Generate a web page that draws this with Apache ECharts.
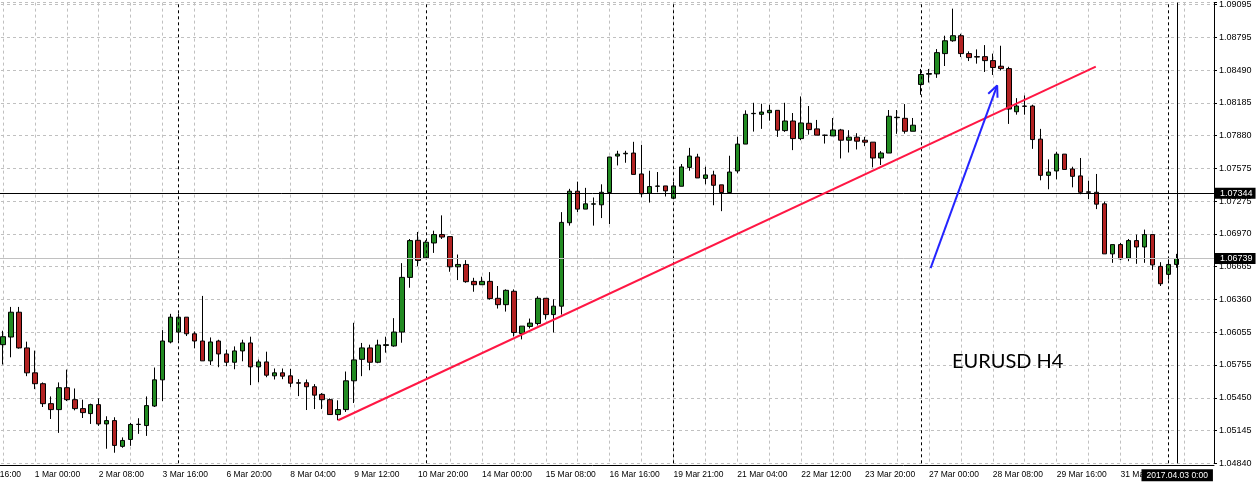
<!DOCTYPE html>
<html><head><meta charset="utf-8">
<script src="https://cdn.jsdelivr.net/npm/echarts/dist/echarts.min.js"></script>
<style>html,body{margin:0;padding:0;background:#fff;overflow:hidden;width:1256px;height:487px;position:relative}
#c{position:absolute;left:-32px;top:0;width:1288px;height:487px}</style>
</head><body><div id="c"></div>
<script>
// x labels: one every 8 bars, first at bar -4
const xLabels = ['28 Feb 16:00','1 Mar 00:00','2 Mar 08:00','3 Mar 16:00','6 Mar 20:00','8 Mar 04:00','9 Mar 12:00','10 Mar 20:00','14 Mar 00:00','15 Mar 08:00','16 Mar 16:00','19 Mar 21:00','21 Mar 04:00','22 Mar 12:00','23 Mar 20:00','27 Mar 00:00','28 Mar 08:00','29 Mar 16:00','31 Mar 00:00'];
const yTickLabels = ['1.04840','1.05145','1.05450','1.05755','1.06055','1.06360','1.06665','1.06970','1.07275','1.07575','1.07880','1.08185','1.08490','1.08795','1.09095'];

const opens = [1.05940,1.06011,1.06241,1.05910,1.05679,1.05578,1.05393,1.05338,1.05541,1.05430,1.05347,1.05301,1.05384,1.05205,1.05236,1.04997,1.05061,1.05200,1.05190,1.05371,
1.05614,1.05965,1.06057,1.06195,1.06041,1.05974,1.05790,1.05974,1.05854,1.05777,1.05882,1.05956,1.05734,1.05780,1.05651,1.05679,1.05651,1.05587,1.05587,1.05550,
1.05479,1.05430,1.05292,1.05338,1.05605,1.05804,1.05910,1.05777,1.05933,1.05928,1.06057,1.06564,1.06908,1.06745,1.06883,1.06961,1.06942,1.06662,1.06684,1.06527,
1.06496,1.06527,1.06370,1.06311,1.06435,1.06044,1.06109,1.06136,1.06370,1.06219,1.06297,1.07071,1.07363,1.07197,1.07243,1.07237,1.07351,1.07689,1.07710,1.07717,
1.07523,1.07344,1.07409,1.07412,1.07298,1.07409,1.07584,1.07680,1.07482,1.07514,1.07422,1.07351,1.07551,1.07800,1.08082,1.08076,1.08091,1.08113,1.07925,1.08014,
1.07851,1.07993,1.07941,1.07883,1.07876,1.07931,1.07836,1.07864,1.07836,1.07818,1.07671,1.07717,1.08045,1.08039,1.07919,1.08353,1.08448,1.08451,1.08639,1.08758,
1.08805,1.08639,1.08611,1.08611,1.08574,1.08522,1.08500,1.08100,1.08153,1.08153,1.07846,1.07510,1.07551,1.07707,1.07569,1.07505,1.07357,1.07353,1.07246,1.06782,
1.06868,1.06742,1.06905,1.06846,1.06961,1.06666,1.06592,1.06684];
const closes = [1.06014,1.06241,1.05910,1.05679,1.05578,1.05393,1.05338,1.05541,1.05430,1.05347,1.05310,1.05384,1.05205,1.05236,1.05006,1.05052,1.05200,1.05202,1.05375,1.05614,
1.05974,1.06195,1.06195,1.06041,1.05974,1.05790,1.05965,1.05854,1.05777,1.05882,1.05956,1.05734,1.05780,1.05657,1.05679,1.05648,1.05583,1.05583,1.05550,1.05472,
1.05430,1.05292,1.05338,1.05605,1.05799,1.05910,1.05777,1.05937,1.05940,1.06057,1.06564,1.06905,1.06721,1.06890,1.06961,1.06938,1.06662,1.06684,1.06524,1.06496,
1.06527,1.06367,1.06311,1.06444,1.06053,1.06112,1.06140,1.06370,1.06219,1.06297,1.07074,1.07363,1.07197,1.07246,1.07246,1.07353,1.07680,1.07707,1.07715,1.07519,
1.07339,1.07406,1.07411,1.07366,1.07412,1.07588,1.07689,1.07486,1.07514,1.07418,1.07351,1.07541,1.07800,1.08076,1.08085,1.08097,1.08113,1.07929,1.08014,1.07851,
1.07996,1.07934,1.07883,1.07881,1.07931,1.07836,1.07864,1.07827,1.07818,1.07671,1.07717,1.08058,1.08049,1.07919,1.07975,1.08445,1.08454,1.08648,1.08758,1.08805,
1.08639,1.08602,1.08607,1.08574,1.08510,1.08500,1.08125,1.08153,1.08150,1.07842,1.07510,1.07541,1.07707,1.07565,1.07501,1.07353,1.07353,1.07243,1.06782,1.06868,
1.06736,1.06905,1.06846,1.06961,1.06680,1.06505,1.06684,1.06739];
const lows = [1.05756,1.05823,1.05903,1.05648,1.05528,1.05362,1.05251,1.05122,1.05417,1.05331,1.05260,1.05205,1.05187,1.04975,1.04938,1.04984,1.05002,1.05113,1.05094,1.05362,
1.05417,1.05952,1.05980,1.06020,1.05906,1.05790,1.05751,1.05731,1.05740,1.05712,1.05786,1.05565,1.05592,1.05638,1.05617,1.05620,1.05546,1.05463,1.05334,1.05343,
1.05343,1.05290,1.05239,1.05316,1.05399,1.05648,1.05703,1.05768,1.05866,1.05921,1.05958,1.06468,1.06668,1.06733,1.06791,1.06920,1.06616,1.06539,1.06514,1.06431,
1.06496,1.06358,1.06275,1.06247,1.06016,1.05989,1.06090,1.06118,1.06173,1.06053,1.06219,1.07044,1.07169,1.07197,1.07044,1.07114,1.07058,1.07602,1.07627,1.07519,
1.07307,1.07258,1.07353,1.07314,1.07298,1.07409,1.07553,1.07486,1.07427,1.07233,1.07178,1.07351,1.07529,1.07800,1.07916,1.07941,1.08017,1.07867,1.07913,1.07744,
1.07836,1.07888,1.07883,1.07805,1.07876,1.07667,1.07722,1.07750,1.07781,1.07584,1.07606,1.07717,1.07895,1.07897,1.07919,1.08257,1.08371,1.08414,1.08524,1.08749,
1.08607,1.08570,1.08546,1.08469,1.08441,1.08482,1.07987,1.08073,1.08073,1.07756,1.07464,1.07381,1.07473,1.07565,1.07399,1.07335,1.07289,1.07197,1.06782,1.06699,
1.06724,1.06714,1.06690,1.06699,1.06634,1.06484,1.06542,1.06653];
const highs = [1.06069,1.06290,1.06290,1.05968,1.05885,1.05590,1.05460,1.05590,1.05709,1.05534,1.05430,1.05393,1.05442,1.05276,1.05267,1.05080,1.05214,1.05258,1.05460,1.05728,
1.06075,1.06226,1.06229,1.06195,1.06063,1.06392,1.06007,1.05986,1.05894,1.05924,1.05986,1.06014,1.05802,1.05875,1.05719,1.05719,1.05716,1.05620,1.05617,1.05574,
1.05491,1.05442,1.05424,1.05691,1.06143,1.05956,1.05940,1.05986,1.06014,1.06186,1.06696,1.06920,1.06985,1.06908,1.06997,1.07139,1.06942,1.06776,1.06724,1.06560,
1.06570,1.06613,1.06484,1.06453,1.06453,1.06112,1.06182,1.06389,1.06370,1.06361,1.07169,1.07385,1.07452,1.07394,1.07305,1.07427,1.07682,1.07738,1.07738,1.07821,
1.07793,1.07553,1.07541,1.07412,1.07452,1.07615,1.07765,1.07710,1.07590,1.07553,1.07422,1.07692,1.07867,1.08113,1.08183,1.08174,1.08165,1.08113,1.08183,1.08088,
1.08242,1.08153,1.08024,1.07888,1.08042,1.07941,1.07929,1.07901,1.07867,1.07818,1.07735,1.08116,1.08116,1.08171,1.08042,1.08497,1.08497,1.08681,1.08805,1.09056,
1.08823,1.08660,1.08678,1.08718,1.08639,1.08712,1.08517,1.08226,1.08251,1.08165,1.07941,1.07658,1.07729,1.07707,1.07590,1.07671,1.07461,1.07523,1.07268,1.06868,
1.06883,1.06920,1.06961,1.07007,1.06961,1.06705,1.06730,1.06782];

// drawn objects (bar index, price)
const trendLine = [[42.0, 1.05239], [136.9, 1.08519]];
const arrowLine = [[116.21, 1.06650], [124.55, 1.08344]];
const arrowHead = [[123.43, 1.08266], [124.55, 1.08344], [124.59, 1.08229]];
const hLinePrice = 1.07344;
const bidPrice = 1.06739;
const weekSeparators = [22, 53, 84, 115, 146];
const cursorBar = 147.1;
const cursorLabel = '2017.04.03 0:00';
const chartTitle = 'EURUSD H4';

const yMin = 1.04840, yStep = yMin / 345, yMax = 1.09112;
const xMin = -4, xMax = 151.71;

const candles = opens.map((o, i) => [i, o, closes[i], lows[i], highs[i]]);

const chart = echarts.init(document.getElementById('c'), null, {renderer: 'canvas'});
const boxLabel = (txt) => ({
  show: true, position: 'end', formatter: txt, distance: 1,
  backgroundColor: '#000', color: '#fff', fontSize: 9, fontFamily: 'Liberation Sans',
  padding: [1, 3, 1, 5]
});
const markData = [];
weekSeparators.forEach(k => markData.push({xAxis: k, lineStyle: {color: '#000', type: [3, 3], width: 1}, label: {show: false}}));
markData.push({yAxis: bidPrice, lineStyle: {color: '#c0c0c0', type: 'solid', width: 1}, label: boxLabel(bidPrice.toFixed(5))});
markData.push({yAxis: hLinePrice, lineStyle: {color: '#000', type: 'solid', width: 1}, label: boxLabel(hLinePrice.toFixed(5))});
markData.push({xAxis: cursorBar, lineStyle: {color: '#000', type: 'solid', width: 1},
  label: {show: true, position: 'start', formatter: cursorLabel, distance: 6, backgroundColor: '#000', color: '#fff',
    fontSize: 8.5, fontFamily: 'Liberation Sans', padding: [2, 5, 1, 5]}});

chart.setOption({
  animation: false,
  backgroundColor: '#fff',
  grid: {left: 0.3, right: 42, top: 0, bottom: 23.7, containLabel: false},
  xAxis: {
    type: 'value', min: xMin, max: xMax, interval: 4, offset: 2,
    axisLine: {show: true, onZero: false, lineStyle: {color: '#000', width: 1}},
    axisTick: {show: false},
    splitLine: {show: true, lineStyle: {color: '#c0c0c0', type: [3, 3], width: 1}},
    axisLabel: {
      show: true, align: 'left', margin: 5, color: '#000', fontSize: 8.5, fontFamily: 'Liberation Sans',
      formatter: (v) => { const r = (v - xMin) / 8; const i = Math.round(r); return Math.abs(r - i) < 1e-6 && xLabels[i] ? xLabels[i] : ''; }
    }
  },
  yAxis: {
    type: 'value', position: 'right', min: yMin, max: yMax, interval: yStep, scale: true,
    axisLine: {show: true, onZero: false, lineStyle: {color: '#000', width: 1}},
    axisTick: {show: true, length: 3, lineStyle: {color: '#000'}},
    splitLine: {show: true, lineStyle: {color: '#c0c0c0', type: [3, 3], width: 1}},
    axisLabel: {
      show: true, margin: 5, color: '#000', fontSize: 9, fontFamily: 'Liberation Sans',
      formatter: (v) => { const r = (v - yMin) / yStep; const i = Math.round(r); return Math.abs(r - i) < 0.02 && yTickLabels[i] ? yTickLabels[i] : ''; }
    }
  },
  series: [
    {
      type: 'candlestick', data: candles, barWidth: 5, z: 2,
      itemStyle: {color: '#228b22', color0: '#b22222', borderColor: '#000', borderColor0: '#000', borderColorDoji: '#000', borderWidth: 1}
    },
    {
      type: 'line', data: [], z: 4, silent: true,
      markLine: {silent: true, precision: 6, symbol: ['none', 'none'], animation: false, data: markData}
    },
    {type: 'line', data: trendLine, z: 5, symbol: 'none', silent: true, lineStyle: {color: '#ff1744', width: 2}},
    {type: 'line', data: arrowLine, z: 5, symbol: 'none', silent: true, lineStyle: {color: '#2424ff', width: 2}},
    {type: 'line', data: arrowHead, z: 5, symbol: 'none', silent: true, lineStyle: {color: '#2424ff', width: 2}}
  ],
  graphic: [{type: 'text', left: 984, top: 352, z: 10, style: {text: chartTitle, font: '20px Lato', fill: '#000'}}]
});
</script></body></html>
